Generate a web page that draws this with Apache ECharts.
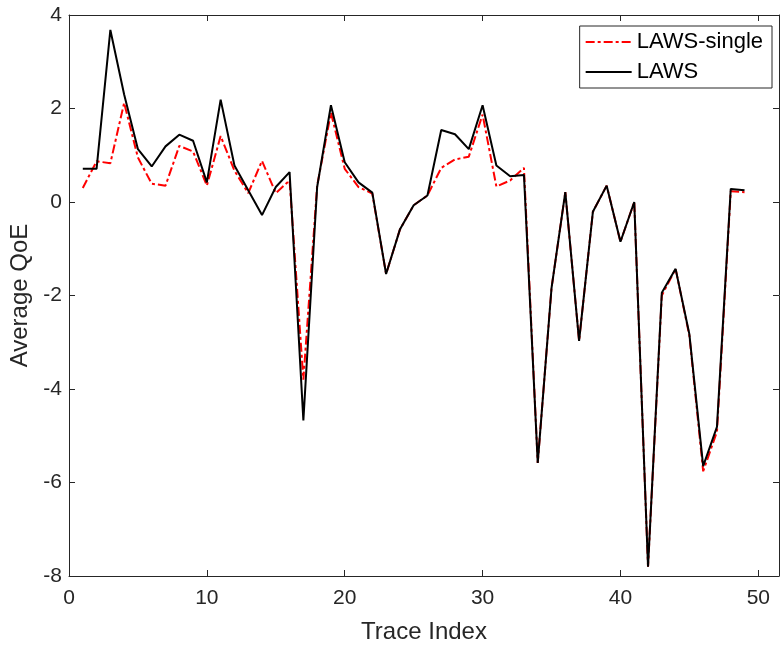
<!DOCTYPE html>
<html>
<head>
<meta charset="utf-8">
<script src="https://cdn.jsdelivr.net/npm/echarts@6/dist/echarts.min.js"></script>
<style>
  html, body { margin: 0; padding: 0; background: #fff; }
  #chart { width: 783px; height: 649px; }
</style>
</head>
<body>
<div id="chart"></div>
<script>
  // trace index 1..49
  var traceIndex = [1,2,3,4,5,6,7,8,9,10,11,12,13,14,15,16,17,18,19,20,21,22,23,24,25,
    26,27,28,29,30,31,32,33,34,35,36,37,38,39,40,41,42,43,44,45,46,47,48,49];

  var lawsSingle = [0.30,0.87,0.83,2.12,0.95,0.39,0.35,1.20,1.08,0.35,1.41,0.67,0.19,0.88,0.19,0.46,
    -3.80,0.35,1.91,0.71,0.32,0.18,-1.54,-0.59,-0.07,0.14,0.73,0.91,0.97,1.87,0.33,0.46,0.73,
    -5.58,-1.84,0.21,-2.97,-0.21,0.35,-0.85,0.00,-7.80,-2.00,-1.43,-2.86,-5.76,-4.91,0.23,0.21];

  var laws = [0.71,0.71,3.68,2.30,1.13,0.76,1.19,1.44,1.31,0.42,2.19,0.78,0.25,-0.28,0.32,0.64,
    -4.67,0.32,2.07,0.85,0.42,0.20,-1.54,-0.59,-0.07,0.14,1.54,1.45,1.13,2.07,0.78,0.55,0.58,
    -5.58,-1.84,0.21,-2.97,-0.21,0.35,-0.85,0.00,-7.80,-1.94,-1.43,-2.83,-5.65,-4.81,0.28,0.25];

  var xTicks = [0,10,20,30,40,50];
  var yTicks = [-8,-6,-4,-2,0,2,4];

  function pairs(vals){
    return traceIndex.map(function(x, i){ return [x, vals[i]]; });
  }

  var font = '"Liberation Sans", Arial, Helvetica, sans-serif';
  var axisColor = '#262626';

  var chart = echarts.init(document.getElementById('chart'));

  var baseAxis = {
    axisLine: { show: true, onZero: false, lineStyle: { color: axisColor, width: 1 } },
    axisTick: { show: true, inside: true, length: 6, lineStyle: { color: axisColor } },
    splitLine: { show: false }
  };

  var option = {
    backgroundColor: '#fff',
    animation: false,
    textStyle: { fontFamily: font },
    grid: { left: 69, right: 4, top: 15, bottom: 70, containLabel: false },
    legend: {
      orient: 'vertical',
      right: 11,
      top: 26,
      padding: [5, 9, 5, 5],
      itemGap: 8,
      itemWidth: 46,
      itemHeight: 22,
      borderColor: axisColor,
      borderWidth: 1,
      backgroundColor: '#fff',
      itemStyle: { opacity: 0 },
      textStyle: { fontFamily: font, fontSize: 22, color: '#000' },
      data: ['LAWS-single', 'LAWS']
    },
    xAxis: [
      Object.assign({}, baseAxis, {
        type: 'value', min: 0, max: 51.5, interval: 10,
        name: 'Trace Index', nameLocation: 'middle', nameGap: 44,
        nameTextStyle: { fontFamily: font, fontSize: 24, color: axisColor },
        axisLabel: {
          fontFamily: font, fontSize: 21, color: axisColor, margin: 12,
          formatter: function(v){ return xTicks.indexOf(v) >= 0 ? String(v) : ''; }
        }
      }),
      Object.assign({}, baseAxis, {
        type: 'value', position: 'top', min: 0, max: 51.5, interval: 10,
        axisLabel: { show: false }
      })
    ],
    yAxis: [
      Object.assign({}, baseAxis, {
        type: 'value', min: -8, max: 4, interval: 2,
        name: 'Average QoE', nameLocation: 'middle', nameGap: 36,
        nameTextStyle: { fontFamily: font, fontSize: 24, color: axisColor },
        axisLabel: {
          fontFamily: font, fontSize: 21, color: axisColor, margin: 7,
          formatter: function(v){ return yTicks.indexOf(v) >= 0 ? String(v) : ''; }
        }
      }),
      Object.assign({}, baseAxis, {
        type: 'value', position: 'right', min: -8, max: 4, interval: 2,
        axisLabel: { show: false }
      })
    ],
    series: [
      {
        name: 'LAWS-single', type: 'line', symbol: 'none',
        data: pairs(lawsSingle),
        lineStyle: { color: '#ff0000', width: 2, type: [9, 3, 3, 3] },
        itemStyle: { color: '#ff0000' },
        z: 2
      },
      {
        name: 'LAWS', type: 'line', symbol: 'none',
        data: pairs(laws),
        lineStyle: { color: '#000000', width: 2, type: 'solid' },
        itemStyle: { color: '#000000' },
        z: 3
      }
    ]
  };

  chart.setOption(option);
</script>
</body>
</html>
